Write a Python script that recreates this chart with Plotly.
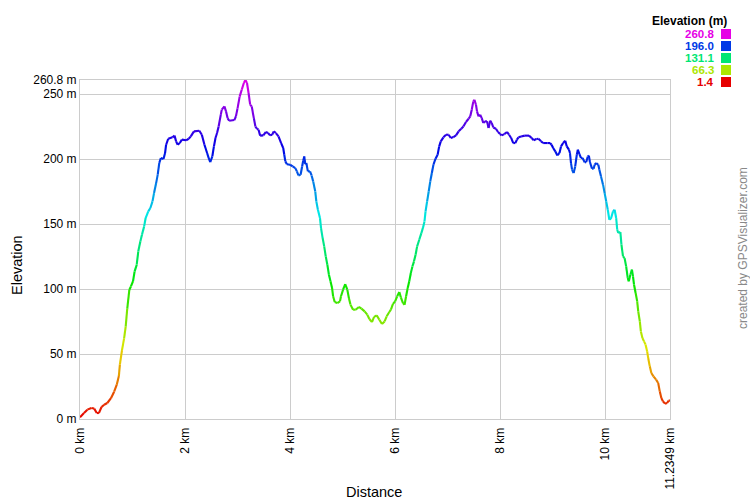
import colorsys
import plotly.graph_objects as go

# ---------------- data ----------------
distance_km = [
    0.00, 0.076, 0.14, 0.217, 0.27, 0.32, 0.36, 0.41, 0.46, 0.52, 0.59, 0.65, 0.70, 0.74, 0.76, 0.80,
    0.84, 0.87, 0.90, 0.94, 0.97, 1.01, 1.04, 1.08, 1.11, 1.15, 1.18, 1.22, 1.25, 1.30, 1.34, 1.38,
    1.41, 1.45, 1.48, 1.51, 1.54, 1.59, 1.62, 1.64, 1.68, 1.76, 1.80, 1.83, 1.86, 1.90, 1.94, 2.02,
    2.07, 2.11, 2.17, 2.27, 2.32, 2.37, 2.42, 2.45, 2.48, 2.52, 2.55, 2.58, 2.61, 2.64, 2.68, 2.70,
    2.75, 2.78, 2.81, 2.84, 2.94, 2.97, 3.00, 3.04, 3.08, 3.12, 3.15, 3.18, 3.21, 3.24, 3.27, 3.31,
    3.34, 3.37, 3.40, 3.43, 3.49, 3.54, 3.58, 3.62, 3.66, 3.69, 3.73, 3.78, 3.83, 3.87, 3.89, 3.91,
    3.94, 4.00, 4.05, 4.10, 4.13, 4.16, 4.20, 4.23, 4.25, 4.27, 4.29, 4.31, 4.34, 4.38, 4.41, 4.44,
    4.48, 4.50, 4.53, 4.57, 4.59, 4.62, 4.65, 4.68, 4.71, 4.74, 4.77, 4.80, 4.82, 4.85, 4.90, 4.95,
    4.97, 5.01, 5.05, 5.09, 5.12, 5.15, 5.20, 5.25, 5.31, 5.36, 5.42, 5.47, 5.51, 5.56, 5.60, 5.65,
    5.70, 5.75, 5.80, 5.84, 5.89, 5.92, 5.96, 6.00, 6.04, 6.08, 6.11, 6.15, 6.18, 6.21, 6.24, 6.27,
    6.30, 6.33, 6.36, 6.39, 6.42, 6.46, 6.50, 6.53, 6.56, 6.58, 6.61, 6.64, 6.67, 6.70, 6.73, 6.77,
    6.81, 6.84, 6.87, 6.92, 6.97, 7.02, 7.06, 7.11, 7.16, 7.21, 7.26, 7.30, 7.35, 7.40, 7.43, 7.46,
    7.49, 7.51, 7.54, 7.56, 7.59, 7.62, 7.65, 7.68, 7.71, 7.75, 7.78, 7.81, 7.84, 7.87, 7.92, 7.96,
    8.00, 8.03, 8.08, 8.13, 8.17, 8.21, 8.25, 8.29, 8.32, 8.35, 8.40, 8.47, 8.55, 8.60, 8.64, 8.69,
    8.73, 8.78, 8.82, 8.90, 8.95, 8.98, 9.01, 9.05, 9.09, 9.13, 9.16, 9.20, 9.24, 9.27, 9.31, 9.33,
    9.35, 9.37, 9.40, 9.43, 9.46, 9.48, 9.51, 9.54, 9.57, 9.61, 9.64, 9.67, 9.69, 9.71, 9.75, 9.78,
    9.80, 9.83, 9.87, 9.89, 9.92, 9.96, 9.99, 10.02, 10.05, 10.08, 10.11, 10.15, 10.18, 10.21, 10.23,
    10.25, 10.29, 10.31, 10.34, 10.37, 10.40, 10.43, 10.45, 10.48, 10.51, 10.53, 10.55, 10.58, 10.61,
    10.63, 10.66, 10.68, 10.71, 10.74, 10.77, 10.80, 10.82, 10.85, 10.88, 10.92, 10.97, 11.01, 11.04,
    11.07, 11.10, 11.14, 11.18, 11.21, 11.2349,
]
elevation_m = [
    1.4, 4.6, 7.2, 8.5, 8.0, 4.6, 4.6, 9.2, 11.0, 12.3, 16.0, 21.0, 26.4, 33.0, 42.0, 53.0,
    62.0, 71.0, 85.0, 99.5, 102.0, 106.0, 113.6, 118.7, 129.0, 136.7, 141.8, 148.0, 154.6, 159.7, 162.3, 167.4,
    173.8, 181.5, 188.0, 197.0, 200.8, 200.0, 204.6, 211.0, 215.6, 216.7, 218.0, 213.6, 211.0, 212.3, 214.9, 214.4,
    215.6, 217.4, 221.3, 221.8, 218.7, 211.0, 204.6, 200.8, 197.7, 202.0, 209.7, 216.2, 220.0, 225.0, 234.0, 238.0,
    240.5, 236.7, 231.5, 229.5, 230.0, 233.0, 239.0, 248.0, 253.3, 258.5, 260.8, 258.5, 250.8, 241.8, 240.5, 231.5,
    225.0, 223.3, 222.6, 218.0, 218.2, 220.8, 220.0, 218.2, 218.7, 221.3, 220.0, 217.4, 212.3, 208.5, 203.3, 198.2,
    196.0, 195.6, 194.3, 193.0, 190.5, 187.4, 187.9, 194.3, 198.7, 202.0, 196.0, 196.9, 190.5, 190.5, 187.4, 182.8,
    175.0, 167.4, 161.0, 154.6, 146.9, 139.2, 132.8, 125.0, 118.7, 111.0, 105.9, 100.8, 94.4, 90.0, 89.2, 90.5,
    94.4, 99.5, 103.8, 99.5, 93.0, 88.0, 84.1, 84.1, 86.2, 84.9, 82.8, 80.3, 76.9, 74.6, 78.5, 79.7,
    76.4, 73.1, 75.1, 79.0, 82.3, 84.1, 88.5, 90.5, 94.4, 97.7, 93.6, 89.2, 87.9, 94.4, 100.8, 105.9,
    112.3, 117.4, 121.3, 126.4, 132.8, 137.9, 143.0, 147.0, 152.0, 159.7, 167.4, 175.0, 182.8, 189.2, 195.6, 200.3,
    203.3, 209.7, 213.6, 216.7, 218.7, 218.7, 216.2, 216.9, 218.2, 221.3, 223.3, 225.0, 228.5, 231.0, 232.8, 237.9,
    244.4, 245.6, 241.8, 236.7, 232.8, 234.1, 231.5, 227.7, 229.0, 229.0, 223.8, 229.5, 227.7, 224.3, 223.3, 220.8,
    219.2, 218.2, 219.2, 220.8, 218.7, 216.2, 212.3, 212.3, 214.9, 216.7, 217.4, 218.0, 218.0, 216.2, 214.4, 215.4,
    215.6, 213.6, 212.3, 212.3, 212.3, 211.0, 208.5, 205.9, 202.8, 204.6, 209.7, 212.3, 214.1, 209.7, 207.2, 204.6,
    196.9, 191.8, 189.2, 194.3, 203.3, 207.2, 203.8, 200.8, 200.8, 197.4, 197.7, 202.0, 202.6, 197.7, 192.6, 192.6,
    195.6, 196.9, 195.6, 191.8, 186.7, 180.3, 173.8, 167.4, 161.0, 153.3, 154.1, 159.7, 161.0, 154.6, 145.6,
    143.1, 143.8, 134.1, 125.1, 123.8, 117.4, 108.5, 105.9, 111.0, 114.9, 109.7, 103.3, 96.9, 90.5,
    82.8, 75.1, 67.4, 62.3, 59.7, 57.2, 52.0, 46.9, 40.5, 35.4, 32.8, 30.3, 27.7, 21.3,
    16.2, 13.6, 11.8, 12.3, 14.1, 14.4,
]

x_tick_vals = [0, 2, 4, 6, 8, 10, 11.2349]
x_tick_text = ["0 km", "2 km", "4 km", "6 km", "8 km", "10 km", "11.2349 km"]
y_tick_vals = [0, 50, 100, 150, 200, 250, 260.8]
y_tick_text = ["0 m", "50 m", "100 m", "150 m", "200 m", "250 m", "260.8 m"]
legend_values = [260.8, 196.0, 131.1, 66.3, 1.4]

E_MIN, E_MAX = 1.4, 260.8
X_MAX = 11.2349
FONT = "Liberation Sans, Arial, Helvetica, sans-serif"


def elev_color(e):
    t = (e - E_MIN) / (E_MAX - E_MIN)
    t = min(max(t, 0.0), 1.0)
    r, g, b = colorsys.hsv_to_rgb(300.0 / 360.0 * t, 1.0, 0.9)
    return "rgb(%d,%d,%d)" % (round(r * 255), round(g * 255), round(b * 255))


# group segments by quantized colour
N_BINS = 120
bins = {}
for i in range(len(distance_km) - 1):
    em = 0.5 * (elevation_m[i] + elevation_m[i + 1])
    k = int(round((em - E_MIN) / (E_MAX - E_MIN) * N_BINS))
    k = min(max(k, 0), N_BINS)
    xs, ys = bins.setdefault(k, ([], []))
    xs += [distance_km[i], distance_km[i + 1], None]
    ys += [elevation_m[i], elevation_m[i + 1], None]

fig = go.Figure()
for k in sorted(bins):
    xs, ys = bins[k]
    fig.add_trace(go.Scatter(
        x=xs, y=ys, mode="lines",
        line=dict(color=elev_color(E_MIN + k / N_BINS * (E_MAX - E_MIN)), width=2.1),
        hoverinfo="skip", showlegend=False,
    ))

# plot area in pixels
L, R, T, B = 80, 670, 80, 419
W, H = 750, 500


def px(xp):
    return (xp - L) / (R - L)


def py(yp):
    return (B - yp) / (B - T)


annotations = [
    dict(text="Elevation", x=px(17), y=py(265), xref="paper", yref="paper",
         showarrow=False, textangle=-90, font=dict(family=FONT, size=14.5, color="#000"),
         xanchor="center", yanchor="middle"),
    dict(text="Distance", x=px(374), y=py(492), xref="paper", yref="paper",
         showarrow=False, font=dict(family=FONT, size=14.5, color="#000"),
         xanchor="center", yanchor="middle"),
    dict(text="created by GPSVisualizer.com", x=px(743), y=py(248), xref="paper", yref="paper",
         showarrow=False, textangle=-90, font=dict(family=FONT, size=12, color="#888"),
         xanchor="center", yanchor="middle"),
    dict(text="<b>Elevation (m)</b>", x=px(728), y=py(21), xref="paper", yref="paper",
         showarrow=False, font=dict(family=FONT, size=12, color="#000"), borderpad=0,
         xanchor="right", yanchor="middle"),
]
shapes = []
for j, v in enumerate(legend_values):
    cy = 34 + 12 * j
    c = elev_color(v)
    annotations.append(dict(
        text="<b>%.1f</b>" % v, x=px(715), y=py(cy), xref="paper", yref="paper",
        showarrow=False, font=dict(family=FONT, size=11.5, color=c), borderpad=0,
        xanchor="right", yanchor="middle"))
    shapes.append(dict(type="rect", xref="paper", yref="paper",
                       x0=px(721), x1=px(731), y0=py(cy + 5), y1=py(cy - 5),
                       fillcolor=c, line=dict(width=0)))

fig.update_layout(
    width=W, height=H, autosize=False,
    margin=dict(l=L, r=W - R, t=T, b=H - B, pad=0, autoexpand=False),
    paper_bgcolor="white", plot_bgcolor="white",
    font=dict(family=FONT, size=12, color="#000"),
    annotations=annotations, shapes=shapes,
    showlegend=False,
)
fig.update_xaxes(
    range=[0, X_MAX], tickmode="array", tickvals=x_tick_vals, ticktext=x_tick_text,
    tickangle=-90, showgrid=True, gridcolor="#cccccc", gridwidth=1,
    showline=True, linecolor="#cccccc", mirror=True, zeroline=False, automargin=False,
    ticks="", ticklabelstandoff=3, tickfont=dict(family=FONT, size=12, color="#000"),
)
fig.update_yaxes(
    range=[0, E_MAX], tickmode="array", tickvals=y_tick_vals, ticktext=y_tick_text,
    showgrid=True, gridcolor="#cccccc", gridwidth=1,
    showline=True, linecolor="#cccccc", mirror=True, zeroline=False, automargin=False,
    ticks="", tickfont=dict(family=FONT, size=12, color="#000"),
)

fig.write_html("out.html", config={"displayModeBar": False},
               post_script="document.body.style.margin='0';")
